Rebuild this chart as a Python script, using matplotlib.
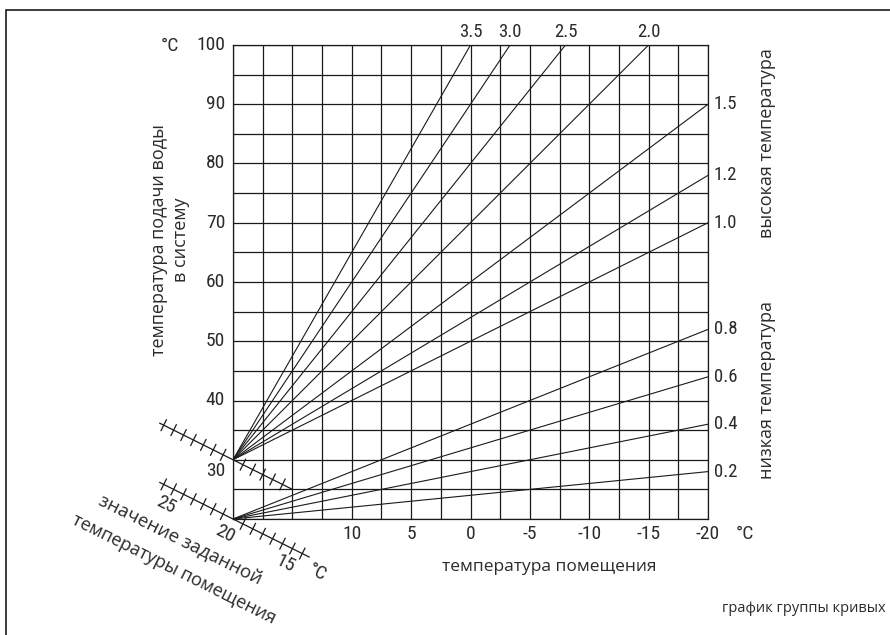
import numpy as np
import matplotlib
matplotlib.use("Agg")
import matplotlib.pyplot as plt
from matplotlib import font_manager as fm
from matplotlib.patches import Rectangle

# data
outside_ticks = [10, 5, 0, -5, -10, -15, -20]
flow_ticks = [30, 40, 50, 60, 70, 80, 90, 100]
low_curves = [0.2, 0.4, 0.6, 0.8]      # start at (20, 20)
high_curves = [1.0, 1.2, 1.5, 2.0, 2.5, 3.0, 3.5]  # start at (20, 30)
room_labels = ["25", "20", "15"]
room_label_steps = [-6, 0, 6]

names = {f.name for f in fm.fontManager.ttflist}
num_font = next((n for n in ["Roboto Condensed", "Liberation Sans Narrow",
                             "DejaVu Sans Condensed", "Roboto"] if n in names), "DejaVu Sans")
txt_font = ["Open Sans", "DejaVu Sans"]
ink = "#1a1a1a"
tcol = "#2b2b2b"
nsize = 14

W, H = 890, 635
fig = plt.figure(figsize=(W / 100, H / 100), dpi=100)
fig.add_artist(Rectangle((6 / W, -0.2), 1.2, 1 - 10 / H + 0.2, transform=fig.transFigure,
                         fill=False, ec=ink, lw=1.2))

x0, x1, ytop, ybot = 233, 708, 45, 519
ax = fig.add_axes([x0 / W, 1 - ybot / H, (x1 - x0) / W, (ybot - ytop) / H])
ax.set_xlim(20, -20)
ax.set_ylim(20, 100)
ax.set_xticks(np.arange(20, -20.1, -2.5))
ax.set_yticks(np.arange(20, 100.1, 5))
ax.tick_params(length=0, labelbottom=False, labelleft=False)
ax.grid(True, color=ink, lw=0.9)
for s in ax.spines.values():
    s.set_color(ink)
    s.set_linewidth(0.9)

px_x = (x1 - x0) / 40.0   # px per deg outside
px_y = (ybot - ytop) / 80.0  # px per deg flow


def off(T, F, dx, dy):
    # shift a data point by pixels (dx right, dy down)
    return T - dx / px_x, F - dy / px_y


# curves
for k in low_curves + high_curves:
    base = 20 if k < 1 else 30
    t_end = max(-20, 20 - (100 - base) / k)
    ax.plot([20, t_end], [base, base + k * (20 - t_end)], color=ink, lw=0.8,
            solid_capstyle="butt")
    if t_end == -20:
        ax.text(*off(-20, base + k * 40, 6, 0), f"{k:.1f}", ha="left", va="center",
                fontsize=nsize - 0.5, family=num_font, color=tcol)
    else:
        ax.text(*off(t_end, 100, 0, -13), f"{k:.1f}", ha="center", va="center",
                fontsize=nsize - 0.5, family=num_font, color=tcol, clip_on=False)

# axis numbers
for t in outside_ticks:
    ax.text(*off(t, 20, 0, 15), str(t), ha="center", va="center",
            fontsize=nsize, family=num_font, color=tcol)
ax.text(*off(-20, 20, 37, 15), "°C", ha="center", va="center",
        fontsize=nsize, family=num_font, color=tcol)
for f in flow_ticks:
    # "30" sits a little lower to clear the diagonal scale
    ax.text(*off(20, f, -8, 11 if f == 30 else 0), str(f), ha="right", va="center",
            fontsize=nsize, family=num_font, color=tcol)
ax.text(*off(20, 100, -63, 1), "°C", ha="center", va="center",
        fontsize=nsize, family=num_font, color=tcol)

# room setpoint scales (diagonal)
step = 5 / 6
ang = np.degrees(np.arctan2(step * px_y, step * px_x))
ux, uy = np.cos(np.radians(ang)), np.sin(np.radians(ang))  # px direction, y down
nx, ny = -uy, ux  # perpendicular, pointing down-left


def scale(base, s_min, s_max, ticks):
    a = off(20 - s_min * step, base - s_min * step, 0, 0)
    b = off(20 - s_max * step, base - s_max * step, 0, 0)
    ax.plot([a[0], b[0]], [a[1], b[1]], color=ink, lw=0.9, clip_on=False)
    for s in ticks:
        c = (20 - s * step, base - s * step)
        p = off(*c, 6 * nx, 6 * ny)
        q = off(*c, -6 * nx, -6 * ny)
        ax.plot([p[0], q[0]], [p[1], q[1]], color=ink, lw=0.9, clip_on=False)


scale(30, -7.4, 6, [s for s in range(-7, 6) if s != 0])
scale(20, -7.4, 7.7, [s for s in range(-7, 8) if s != 0])
for lab, s in zip(room_labels, room_label_steps):
    c = (20 - s * step, 20 - s * step)
    ax.text(*off(*c, 17 * nx, 17 * ny), lab, ha="center", va="center", rotation=-ang,
            rotation_mode="anchor", fontsize=nsize, family=num_font, color=tcol, clip_on=False)
c = (20 - 9 * step, 20 - 9 * step)
ax.text(*off(*c, 10 * nx, 10 * ny), "°C", ha="center", va="center", rotation=-ang,
        rotation_mode="anchor", fontsize=nsize, family=num_font, color=tcol)

# labels
fig.text(180 / W, 1 - 539 / H, "значение заданной", rotation=-ang, rotation_mode="anchor",
         ha="center", va="center", fontsize=13.5, family=txt_font, color=tcol)
fig.text(174 / W, 1 - 569 / H, "температуры помещения", rotation=-ang, rotation_mode="anchor",
         ha="center", va="center", fontsize=13, family=txt_font, color=tcol)
fig.text(170 / W, 1 - 240 / H, "температура подачи воды\nв систему", rotation=90,
         ha="center", va="center", multialignment="center", linespacing=1.25,
         fontsize=13, family=txt_font, color=tcol)
fig.text(767 / W, 1 - 143 / H, "высокая температура", rotation=90, ha="center", va="center",
         fontsize=13, family=txt_font, color=tcol)
fig.text(767 / W, 1 - 390 / H, "низкая температура", rotation=90, ha="center", va="center",
         fontsize=13, family=txt_font, color=tcol)
fig.text(549 / W, 1 - 567 / H, "температура помещения", ha="center", va="center",
         fontsize=12.5, family=txt_font, color=tcol)
fig.text(886 / W, 1 - 608 / H, "график группы кривых", ha="right", va="center",
         fontsize=10.5, family=txt_font, color=tcol)

fig.savefig("out.png", dpi=100)
